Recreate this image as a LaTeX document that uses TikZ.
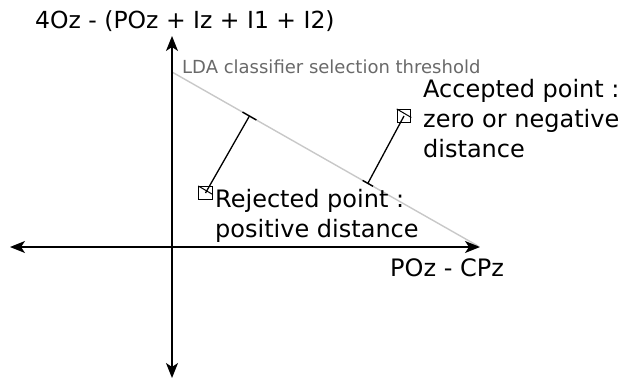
\documentclass[tikz,border=0pt]{standalone}
\usepackage{fontspec}
\setmainfont{DejaVu Sans}
\usetikzlibrary{arrows.meta,calc}
\definecolor{thrgray}{RGB}{200,200,200}
\definecolor{lblgray}{RGB}{105,105,105}
\tikzset{
  axis/.style={line width=1.5pt,{Stealth[length=15pt,width=12pt,inset=4pt]}-{Stealth[length=15pt,width=12pt,inset=4pt]}},
  thr/.style={line width=1.4pt,color=thrgray},
  conn/.style={line width=1.3pt},
  tickmark/.style={line width=1.4pt},
  ptbox/.style={draw,line width=1.1pt,minimum width=13.5pt,minimum height=13pt,inner sep=0pt,fill=white},
  biglbl/.style={font=\fontsize{24}{30}\selectfont,inner sep=0pt,align=left},
  toplbl/.style={font=\fontsize{23.5}{28}\selectfont,inner sep=0pt},
  smalllbl/.style={font=\fontsize{18}{22}\selectfont,inner sep=0pt,text=lblgray}
}
\begin{document}
\begin{tikzpicture}[x=1pt,y=1pt]
\useasboundingbox (0,0) rectangle (623,381);
% axes
\coordinate (xl) at (10,134);
\coordinate (xr) at (480,134);
\coordinate (yb) at (172,3);
\coordinate (yt) at (172,345);
% threshold
\coordinate (thrA) at (172,309);
\coordinate (thrB) at (478,135);
\draw[thr] (thrA) -- (thrB);
\draw[axis] (xl) -- (xr);
\draw[axis] (yb) -- (yt);
% feet on threshold
\coordinate (rfoot) at ($(thrA)!0.253!(thrB)$);
\coordinate (afoot) at ($(thrA)!0.64!(thrB)$);
% points
\node[ptbox] (rej) at (205.5,188) {};
\node[ptbox] (acc) at (404,265) {};
\draw[line width=1pt] (rej.north west) -- ($(rej.east)+(0,-1.5)$);
\draw[line width=1pt] (acc.north west) -- ($(acc.east)+(0,-1.5)$);
\draw[conn] (rfoot) -- (rej.center);
\draw[conn] (afoot) -- (acc.center);
\draw[tickmark] ($(rfoot)!8pt!(thrA)$) -- ($(rfoot)!8pt!(thrB)$);
\draw[tickmark] ($(afoot)!6pt!(thrA)$) -- ($(afoot)!6pt!(thrB)$);
% labels
\node[toplbl,anchor=base west] (ylab) at (35,352) {4Oz - (POz + Iz + I1 + I2)};
\node[smalllbl,anchor=base west] (thrlab) at (182,308) {LDA classifier selection threshold};
\node[biglbl,anchor=north west] (acclab) at (423,302) {Accepted point :\\zero or negative\\distance};
\node[biglbl,anchor=north west] (rejlab) at (215,192) {Rejected point :\\positive distance};
\node[biglbl,anchor=base west] (xlab) at (390,105) {POz - CPz};
\end{tikzpicture}
\end{document}
